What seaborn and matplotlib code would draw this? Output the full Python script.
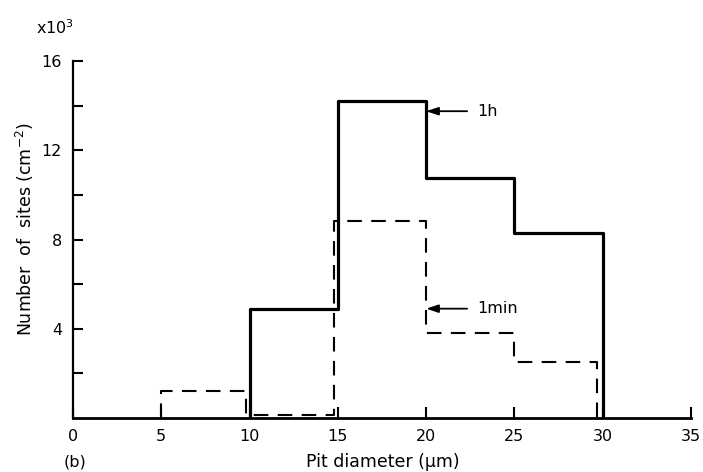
import numpy as np
import pandas as pd
import matplotlib
matplotlib.use("Agg")
import matplotlib.pyplot as plt
import seaborn as sns

# ---- data (number of sites, x10^3 cm^-2) ----
edges_1h = [10, 15, 20, 25, 30]
counts_1h = [4.9, 14.2, 10.75, 8.3]
edges_1min = [5, 9.8, 14.8, 20, 25, 29.7]
counts_1min = [1.2, 0.15, 8.85, 3.8, 2.5]

x_ticks = [0, 5, 10, 15, 20, 25, 30, 35]
y_major = [4, 8, 12, 16]
y_minor = [2, 6, 10, 14]


def stairs(edges, counts):
    xs, ys = [edges[0]], [0.0]
    for i, c in enumerate(counts):
        xs += [edges[i], edges[i + 1]]
        ys += [c, c]
    xs.append(edges[-1])
    ys.append(0.0)
    return pd.DataFrame({"x": xs, "y": ys})


sns.set_theme(style="ticks")
plt.rcParams["font.family"] = ["DejaVu Sans"]
plt.rcParams["text.color"] = "black"

fig = plt.figure(figsize=(7.03, 4.72), dpi=100)
ax = fig.add_axes([73 / 703, 1 - 418 / 472, 618 / 703, (418 - 61) / 472])

d1 = stairs(edges_1h, counts_1h)
d2 = stairs(edges_1min, counts_1min)
sns.lineplot(data=d2, x="x", y="y", sort=False, estimator=None, ax=ax,
             color="black", lw=1.5, linestyle=(0, (7, 4.5)))
sns.lineplot(data=d1, x="x", y="y", sort=False, estimator=None, ax=ax,
             color="black", lw=2.3)

fs = 11.5
ax.set_xlim(0, 35)
ax.set_ylim(0, 16)
ax.set_xticks(x_ticks)
ax.set_xticklabels([str(t) for t in x_ticks])
ax.set_yticks(y_major)
ax.set_yticklabels([str(t) for t in y_major])
ax.set_yticks(y_minor, minor=True)
ax.tick_params(axis="both", which="both", direction="in", length=7, width=1.5,
               colors="black", labelsize=fs, pad=8)
ax.tick_params(axis="x", which="both", length=8)
for s in ["top", "right"]:
    ax.spines[s].set_visible(False)
ax.spines["left"].set_linewidth(1.6)
ax.spines["bottom"].set_linewidth(2.0)
ax.spines["left"].set_color("black")
ax.spines["bottom"].set_color("black")
ax.set_xlabel("")
ax.set_ylabel("")
ax.set_facecolor("white")

# annotations
ax.annotate("1h", xy=(20, 13.75), xytext=(22.9, 13.75), fontsize=fs,
            va="center", ha="left", color="black",
            arrowprops=dict(arrowstyle="-|>,head_length=0.6,head_width=0.2",
                            color="black", lw=1.3,
                            mutation_scale=12, shrinkA=5, shrinkB=0))
ax.annotate("1min", xy=(20, 4.9), xytext=(22.9, 4.9), fontsize=fs,
            va="center", ha="left", color="black",
            arrowprops=dict(arrowstyle="-|>,head_length=0.6,head_width=0.2",
                            color="black", lw=1.3,
                            mutation_scale=12, shrinkA=5, shrinkB=0))

fig.text(25 / 703, 1 - 229 / 472, "Number  of  sites (cm$^{-2}$)", rotation=90,
         ha="center", va="center", fontsize=12.5)
fig.text(383 / 703, 1 - 462 / 472, "Pit diameter (μm)", ha="center",
         va="center", fontsize=12.5)
fig.text(75 / 703, 1 - 462 / 472, "(b)", ha="center", va="center",
         fontsize=fs)
fig.text(36 / 703, 1 - 28 / 472, "x10$^{3}$", ha="left", va="center",
         fontsize=fs)

fig.savefig("out.png", dpi=100, facecolor="white")
